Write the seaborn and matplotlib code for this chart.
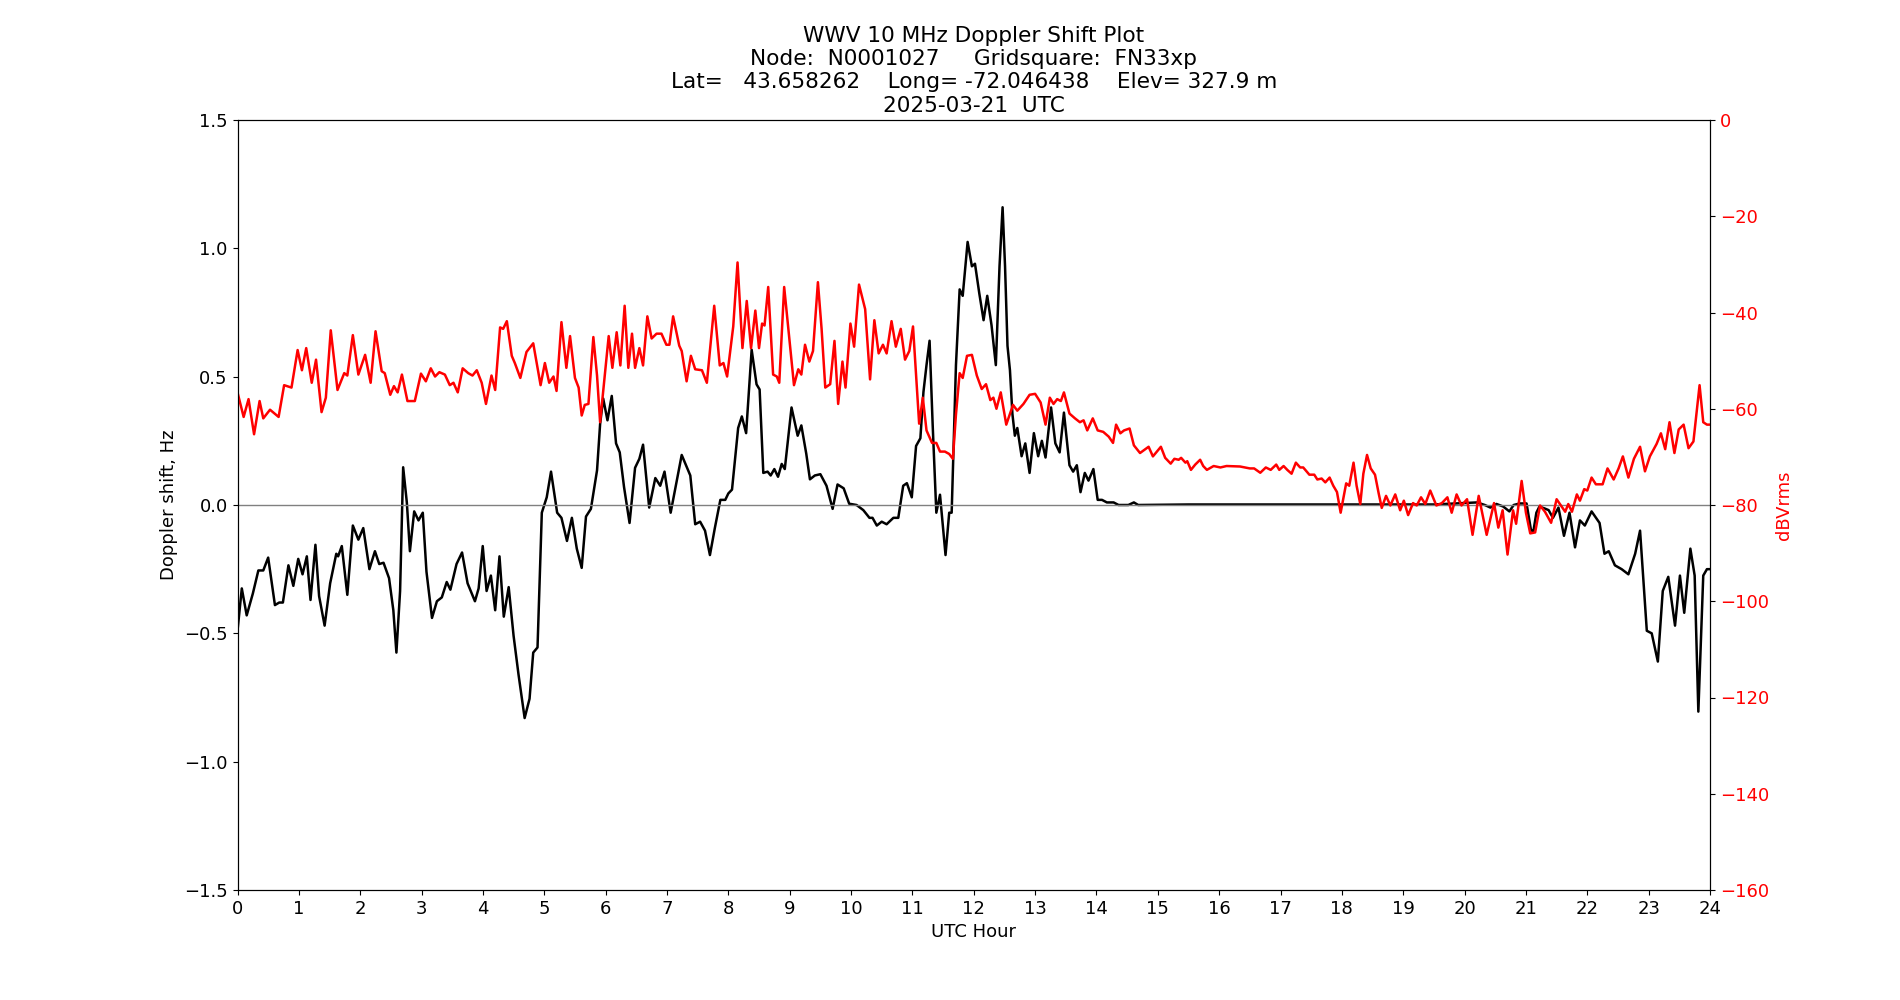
import matplotlib
matplotlib.use("Agg")
import matplotlib.pyplot as plt
import seaborn as sns
import numpy as np

plt.rcParams["font.size"] = 13

# Doppler shift (black) -- hours, Hz
doppler_hours = [0.0, 0.07, 0.15, 0.25, 0.34, 0.42, 0.50, 0.61, 0.68, 0.74, 0.83, 0.91, 0.99, 1.06, 1.13,
                 1.19, 1.27, 1.33, 1.42, 1.51, 1.61, 1.64, 1.70, 1.79, 1.88, 1.97, 2.05, 2.15, 2.24, 2.31,
                 2.38, 2.47, 2.54, 2.59, 2.65, 2.70, 2.76, 2.81, 2.88, 2.95, 3.02, 3.08, 3.17, 3.25, 3.33,
                 3.41, 3.47, 3.57, 3.66, 3.75, 3.87, 3.93, 3.997, 4.06, 4.13, 4.20, 4.27, 4.34, 4.42, 4.50,
                 4.58, 4.68, 4.76, 4.82, 4.89, 4.96, 5.04, 5.11, 5.21, 5.28, 5.37, 5.45, 5.53, 5.61, 5.68,
                 5.76, 5.86, 5.91, 5.96, 6.03, 6.10, 6.17, 6.23, 6.30, 6.39, 6.48, 6.55, 6.61, 6.71, 6.81,
                 6.89, 6.96, 7.06, 7.16, 7.24, 7.38, 7.46, 7.54, 7.62, 7.70, 7.78, 7.87, 7.95, 8.00, 8.06,
                 8.11, 8.16, 8.22, 8.29, 8.38, 8.46, 8.51, 8.57, 8.64, 8.69, 8.75, 8.81, 8.87, 8.92, 9.03,
                 9.13, 9.19, 9.27, 9.33, 9.41, 9.50, 9.60, 9.70, 9.78, 9.88, 9.97, 10.09, 10.20, 10.30, 10.35,
                 10.42, 10.50, 10.58, 10.69, 10.77, 10.85, 10.91, 10.99, 11.06, 11.13, 11.18, 11.23, 11.28, 11.33, 11.39,
                 11.45, 11.54, 11.60, 11.64, 11.71, 11.77, 11.82, 11.90, 11.97, 12.02, 12.09, 12.16, 12.22, 12.29, 12.36,
                 12.42, 12.47, 12.51, 12.55, 12.59, 12.63, 12.67, 12.71, 12.78, 12.84, 12.91, 12.98, 13.05, 13.11, 13.17,
                 13.26, 13.33, 13.40, 13.47, 13.56, 13.62, 13.68, 13.74, 13.81, 13.87, 13.95, 14.02, 14.09, 14.17, 14.28,
                 14.36, 14.52, 14.61, 14.68, 15.5, 16.5, 17.5, 18.5, 19.5, 20.20, 20.33, 20.42, 20.52, 20.63, 20.73,
                 20.80, 20.90, 21.01, 21.08, 21.12, 21.17, 21.22, 21.30, 21.37, 21.44, 21.53, 21.62, 21.71, 21.80, 21.88,
                 21.96, 22.07, 22.20, 22.28, 22.35, 22.45, 22.56, 22.67, 22.78, 22.86, 22.92, 22.97, 23.05, 23.15, 23.23,
                 23.32, 23.43, 23.51, 23.58, 23.68, 23.75, 23.81, 23.89, 23.95, 24.0]
doppler_hz = [-0.49, -0.325, -0.43, -0.345, -0.255, -0.255, -0.205, -0.39, -0.38, -0.38, -0.235, -0.315, -0.21, -0.27, -0.20,
              -0.37, -0.155, -0.355, -0.47, -0.305, -0.19, -0.20, -0.16, -0.35, -0.08, -0.135, -0.09, -0.25, -0.18, -0.23,
              -0.225, -0.285, -0.41, -0.575, -0.335, 0.147, 0.01, -0.18, -0.025, -0.06, -0.03, -0.26, -0.44, -0.375, -0.36,
              -0.30, -0.33, -0.23, -0.185, -0.305, -0.375, -0.325, -0.16, -0.335, -0.275, -0.41, -0.20, -0.435, -0.32, -0.51,
              -0.66, -0.83, -0.755, -0.575, -0.555, -0.03, 0.03, 0.13, -0.03, -0.05, -0.14, -0.05, -0.17, -0.245, -0.045,
              -0.015, 0.135, 0.315, 0.415, 0.33, 0.425, 0.24, 0.205, 0.07, -0.07, 0.145, 0.18, 0.235, -0.01, 0.105,
              0.075, 0.13, -0.03, 0.095, 0.195, 0.115, -0.075, -0.065, -0.10, -0.195, -0.09, 0.02, 0.02, 0.045, 0.06,
              0.18, 0.30, 0.345, 0.28, 0.605, 0.47, 0.45, 0.125, 0.13, 0.115, 0.14, 0.11, 0.16, 0.14, 0.38,
              0.27, 0.31, 0.20, 0.10, 0.115, 0.12, 0.075, -0.015, 0.08, 0.065, 0.005, 0.0, -0.02, -0.05, -0.05,
              -0.08, -0.065, -0.075, -0.05, -0.05, 0.075, 0.085, 0.03, 0.23, 0.26, 0.44, 0.545, 0.64, 0.315, -0.03,
              0.04, -0.195, -0.03, -0.03, 0.545, 0.84, 0.815, 1.025, 0.93, 0.94, 0.825, 0.72, 0.815, 0.70, 0.545,
              0.93, 1.16, 0.93, 0.62, 0.525, 0.355, 0.27, 0.30, 0.19, 0.24, 0.125, 0.28, 0.19, 0.25, 0.185,
              0.38, 0.24, 0.205, 0.36, 0.155, 0.13, 0.155, 0.05, 0.125, 0.095, 0.14, 0.02, 0.02, 0.01, 0.01,
              0.0, 0.0, 0.01, 0.0, 0.002, 0.002, 0.002, 0.002, 0.002, 0.01, 0.0, -0.01, 0.004, -0.006, -0.025,
              0.0, 0.006, 0.006, -0.095, -0.105, -0.03, -0.006, -0.013, -0.02, -0.05, -0.01, -0.12, -0.03, -0.165, -0.06,
              -0.08, -0.025, -0.07, -0.19, -0.18, -0.235, -0.25, -0.27, -0.19, -0.10, -0.315, -0.49, -0.50, -0.61, -0.335,
              -0.28, -0.47, -0.275, -0.42, -0.17, -0.275, -0.805, -0.275, -0.25, -0.25]

# Received power (red) -- hours, dBVrms
power_hours = [0.0, 0.10, 0.18, 0.27, 0.36, 0.42, 0.53, 0.67, 0.76, 0.88, 0.98, 1.05, 1.12, 1.21, 1.28,
               1.37, 1.44, 1.52, 1.63, 1.74, 1.79, 1.88, 1.97, 2.08, 2.17, 2.25, 2.35, 2.40, 2.49, 2.55,
               2.61, 2.68, 2.77, 2.89, 2.99, 3.07, 3.15, 3.22, 3.29, 3.38, 3.46, 3.52, 3.59, 3.67, 3.76,
               3.83, 3.90, 3.98, 4.05, 4.14, 4.20, 4.28, 4.33, 4.39, 4.47, 4.52, 4.61, 4.71, 4.82, 4.94,
               5.01, 5.08, 5.15, 5.20, 5.28, 5.36, 5.42, 5.50, 5.56, 5.61, 5.66, 5.72, 5.80, 5.86, 5.91,
               5.97, 6.05, 6.11, 6.18, 6.24, 6.31, 6.37, 6.43, 6.48, 6.55, 6.61, 6.68, 6.75, 6.83, 6.91,
               6.99, 7.04, 7.10, 7.20, 7.24, 7.32, 7.39, 7.46, 7.57, 7.65, 7.70, 7.77, 7.86, 7.92, 7.98,
               8.08, 8.15, 8.23, 8.30, 8.37, 8.44, 8.50, 8.55, 8.59, 8.65, 8.73, 8.79, 8.83, 8.91, 8.99,
               9.07, 9.14, 9.19, 9.25, 9.32, 9.38, 9.46, 9.52, 9.58, 9.66, 9.73, 9.79, 9.86, 9.91, 9.99,
               10.05, 10.13, 10.23, 10.31, 10.38, 10.45, 10.52, 10.58, 10.66, 10.73, 10.81, 10.88, 10.95, 11.01, 11.06,
               11.11, 11.17, 11.23, 11.32, 11.39, 11.45, 11.53, 11.60, 11.66, 11.71, 11.77, 11.82, 11.89, 11.97, 12.05,
               12.13, 12.20, 12.27, 12.32, 12.37, 12.44, 12.53, 12.64, 12.71, 12.81, 12.91, 13.00, 13.09, 13.17, 13.24,
               13.30, 13.36, 13.42, 13.47, 13.56, 13.65, 13.73, 13.79, 13.85, 13.94, 14.02, 14.11, 14.20, 14.27, 14.32,
               14.39, 14.45, 14.54, 14.61, 14.71, 14.85, 14.92, 15.05, 15.12, 15.21, 15.27, 15.34, 15.38, 15.45, 15.48,
               15.54, 15.61, 15.69, 15.74, 15.80, 15.91, 16.02, 16.12, 16.34, 16.50, 16.57, 16.67, 16.76, 16.84, 16.93,
               16.98, 17.05, 17.11, 17.18, 17.25, 17.32, 17.37, 17.47, 17.55, 17.60, 17.67, 17.73, 17.80, 17.86, 17.92,
               17.98, 18.07, 18.12, 18.19, 18.24, 18.30, 18.35, 18.41, 18.47, 18.54, 18.60, 18.65, 18.72, 18.79, 18.87,
               18.95, 19.01, 19.08, 19.16, 19.22, 19.29, 19.36, 19.44, 19.54, 19.63, 19.72, 19.79, 19.87, 19.95, 20.04,
               20.13, 20.23, 20.36, 20.48, 20.55, 20.62, 20.70, 20.79, 20.84, 20.93, 21.00, 21.07, 21.15, 21.23, 21.31,
               21.41, 21.50, 21.57, 21.64, 21.69, 21.75, 21.83, 21.88, 21.95, 22.00, 22.07, 22.14, 22.25, 22.33, 22.43,
               22.51, 22.58, 22.67, 22.76, 22.86, 22.94, 23.02, 23.13, 23.20, 23.27, 23.34, 23.42, 23.49, 23.57, 23.65,
               23.73, 23.83, 23.89, 23.95, 24.0]
power_db = [-56.6, -61.7, -58.0, -65.3, -58.4, -62.0, -60.2, -61.7, -55.1, -55.6, -47.8, -52.0, -47.4, -54.6, -49.8,
            -60.7, -57.7, -43.7, -56.1, -52.6, -53.1, -44.7, -52.9, -48.8, -54.6, -43.9, -52.2, -52.6, -57.1, -55.3,
            -56.6, -52.9, -58.4, -58.4, -52.7, -54.3, -51.6, -53.3, -52.4, -52.9, -55.1, -54.6, -56.6, -51.6, -52.6,
            -53.1, -52.0, -54.6, -59.0, -53.1, -56.1, -43.1, -43.4, -41.8, -49.0, -50.5, -53.6, -48.2, -46.4, -55.1,
            -50.5, -54.6, -53.3, -56.3, -42.0, -51.5, -44.9, -53.6, -55.6, -61.4, -59.2, -59.0, -45.1, -53.1, -62.8,
            -55.1, -44.9, -51.5, -44.1, -51.0, -38.6, -51.5, -44.4, -51.5, -47.4, -51.0, -40.8, -45.4, -44.4, -44.4,
            -46.7, -46.7, -40.8, -46.9, -48.0, -54.3, -49.0, -51.8, -52.0, -54.6, -48.0, -38.6, -51.0, -50.5, -53.3,
            -42.9, -29.6, -47.4, -37.6, -47.4, -39.6, -47.4, -42.3, -42.7, -34.7, -52.9, -53.3, -54.6, -34.7, -44.9,
            -55.1, -51.8, -52.9, -46.7, -50.2, -48.0, -33.7, -43.4, -55.6, -54.9, -45.9, -59.0, -50.2, -55.6, -42.3,
            -47.1, -34.2, -39.3, -53.9, -41.6, -48.5, -46.7, -48.5, -41.8, -47.1, -43.4, -49.8, -48.0, -42.9, -53.1,
            -63.1, -57.7, -64.5, -67.1, -67.1, -68.9, -68.9, -69.4, -70.4, -61.2, -52.6, -53.6, -49.0, -48.8, -53.1,
            -55.9, -54.9, -58.2, -57.7, -60.0, -56.6, -63.3, -59.2, -60.4, -59.0, -57.1, -56.9, -58.7, -63.3, -57.7,
            -59.0, -58.0, -58.4, -56.6, -61.0, -62.0, -62.8, -62.4, -64.5, -62.0, -64.5, -64.8, -65.8, -67.1, -63.3,
            -65.1, -64.5, -64.1, -67.6, -69.2, -67.9, -69.9, -67.9, -70.2, -71.4, -70.4, -70.6, -70.2, -71.2, -70.9,
            -72.7, -71.6, -70.6, -71.9, -72.7, -71.9, -72.2, -71.9, -72.0, -72.4, -72.4, -73.3, -72.2, -72.7, -71.6,
            -72.7, -71.9, -72.7, -73.5, -71.2, -72.2, -72.2, -73.7, -73.7, -74.7, -74.5, -75.3, -74.3, -76.0, -77.3,
            -81.6, -75.5, -76.0, -71.2, -76.0, -79.8, -73.5, -69.6, -72.4, -73.7, -77.6, -80.6, -78.1, -80.1, -77.8,
            -81.1, -79.1, -82.1, -79.6, -80.1, -78.4, -79.8, -77.0, -80.1, -79.6, -78.4, -81.6, -77.8, -80.1, -78.8,
            -86.2, -78.1, -86.2, -79.6, -84.7, -81.1, -90.3, -81.1, -83.9, -75.0, -81.6, -85.9, -85.7, -80.1, -81.4,
            -83.7, -78.8, -80.1, -81.4, -79.8, -81.4, -77.8, -79.1, -76.7, -77.0, -74.3, -75.7, -75.7, -72.4, -74.7,
            -72.4, -69.9, -74.3, -70.4, -67.9, -73.0, -69.9, -67.3, -65.1, -68.4, -62.8, -69.2, -64.3, -63.3, -68.2,
            -66.8, -55.1, -62.8, -63.3, -63.3]

x_ticks = list(range(0, 25))
left_ticks = [-1.5, -1.0, -0.5, 0.0, 0.5, 1.0, 1.5]
right_ticks = [-160, -140, -120, -100, -80, -60, -40, -20, 0]

title_text = ("WWV 10 MHz Doppler Shift Plot\n"
              "Node:  N0001027     Gridsquare:  FN33xp\n"
              "Lat=   43.658262    Long= -72.046438    Elev= 327.9 m\n"
              "2025-03-21  UTC")

fig, ax = plt.subplots(figsize=(19, 10), dpi=100)

sns.lineplot(x=doppler_hours, y=doppler_hz, ax=ax, color="black", linewidth=1.8,
             estimator=None, sort=False)
ax.axhline(0, color="gray", linewidth=1)
ax.set_xlim(0, 24)
ax.set_ylim(-1.5, 1.5)
ax.set_xticks(x_ticks)
ax.set_yticks(left_ticks)
ax.set_xlabel("UTC Hour")
ax.set_ylabel("Doppler shift, Hz")
ax.set_title(title_text, fontsize="large")

ax2 = ax.twinx()
sns.lineplot(x=power_hours, y=power_db, ax=ax2, color="red", linewidth=1.8,
             estimator=None, sort=False)
ax2.set_ylim(-160, 0)
ax2.set_yticks(right_ticks)
ax2.tick_params(axis="y", labelcolor="red")
ax2.set_ylabel("dBVrms", color="red")

fig.savefig("out.png", dpi=100)
